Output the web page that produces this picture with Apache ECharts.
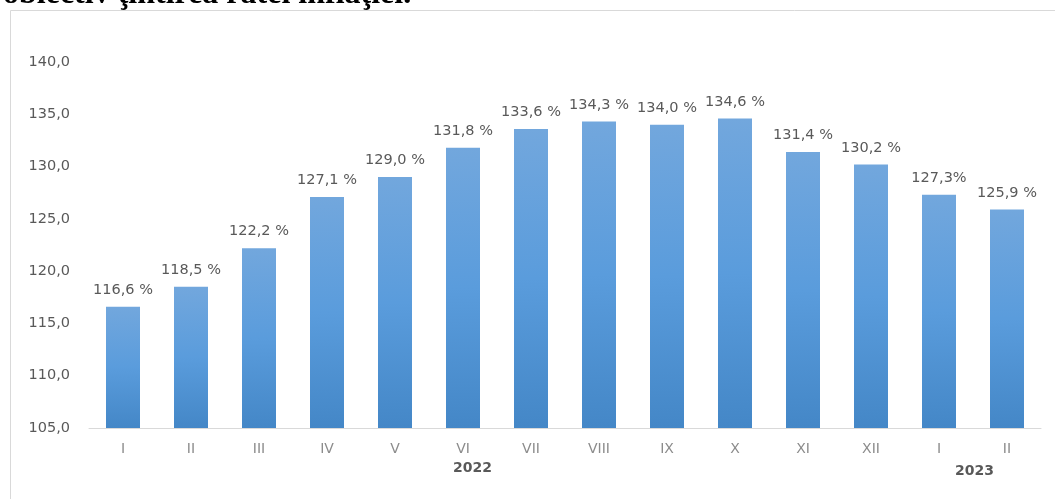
<!DOCTYPE html>
<html lang="ro">
<head>
    <meta charset="UTF-8">
    <title>Indicele prețurilor de consum</title>
    <script src="https://cdn.jsdelivr.net/npm/echarts@6/dist/echarts.min.js"></script>
    <style>
        html, body { margin: 0; padding: 0; background: #fff; }
        #chart { width: 1055px; height: 499px; }
    </style>
</head>
<body>
<div id="chart"></div>
<script>
    // luni 2022 - 2023
    var months = ['I','II','III','IV','V','VI','VII','VIII','IX','X','XI','XII','I','II'];
    var values = [116.6,118.5,122.2,127.1,129.0,131.8,133.6,134.3,134.0,134.6,131.4,130.2,127.3,125.9];
    var valueLabels = ['116,6 %','118,5 %','122,2 %','127,1 %','129,0 %','131,8 %','133,6 %','134,3 %','134,0 %','134,6 %','131,4 %','130,2 %','127,3%','125,9 %'];
    var years = ['2022','2023'];

    var chart = echarts.init(document.getElementById('chart'));
    var option = {
        animation: false,
        grid: { left: 89, right: 14, top: 62, bottom: 71 },
        xAxis: {
            type: 'category',
            data: months,
            axisLine: { lineStyle: { color: '#d9d9d9', width: 1 } },
            axisTick: { show: false },
            axisLabel: { color: '#8c8c8c', fontSize: 14, fontFamily: 'DejaVu Sans', margin: 14 }
        },
        yAxis: {
            type: 'value',
            min: 105,
            max: 140,
            interval: 5,
            axisLine: { show: false },
            axisTick: { show: false },
            splitLine: { show: false },
            axisLabel: {
                color: '#595959', fontSize: 14.5, fontFamily: 'DejaVu Sans', margin: 19,
                formatter: function (v) { return v.toFixed(1).replace('.', ','); }
            }
        },
        series: [{
            type: 'bar',
            data: values,
            barWidth: '50%',
            itemStyle: {
                color: new echarts.graphic.LinearGradient(0, 0, 0, 1, [
                    { offset: 0, color: '#72a7dd' },
                    { offset: 0.5, color: '#5a9cdc' },
                    { offset: 1, color: '#4487c7' }
                ])
            },
            label: {
                show: true,
                position: 'top',
                distance: 9,
                color: '#595959',
                fontSize: 14.5,
                fontFamily: 'DejaVu Sans',
                formatter: function (p) { return valueLabels[p.dataIndex]; }
            }
        }],
        graphic: [
            {
                type: 'rect',
                shape: { x: 10.5, y: 10.5, width: 1100, height: 600 },
                style: { fill: 'none', stroke: '#d9d9d9', lineWidth: 1 },
                silent: true
            },
            {
                type: 'text',
                left: 3, top: -21,
                style: { text: 'obiectiv ţintirea ratei inflaţiei.', font: 'bold 32px "Liberation Serif"', fill: '#000' }
            },
            {
                type: 'text',
                left: 453, top: 461,
                style: { text: years[0], font: 'bold 14px "DejaVu Sans"', fill: '#595959' }
            },
            {
                type: 'text',
                left: 955, top: 464,
                style: { text: years[1], font: 'bold 14px "DejaVu Sans"', fill: '#595959' }
            }
        ]
    };
    chart.setOption(option);
</script>
</body>
</html>
